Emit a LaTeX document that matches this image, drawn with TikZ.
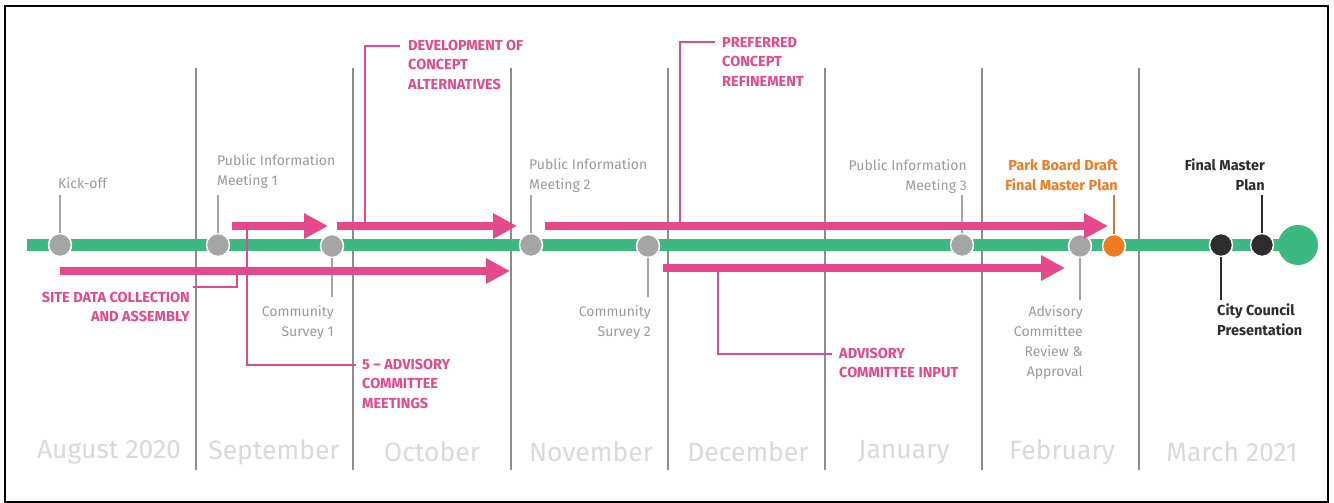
\documentclass[tikz,border=0pt]{standalone}
\usepackage{fontspec}
\setmainfont{Fira Sans}
\usetikzlibrary{arrows.meta}
\definecolor{cpink}{RGB}{230,72,140}
\definecolor{cgreen}{RGB}{60,185,130}
\definecolor{cgray}{RGB}{165,165,165}
\definecolor{ctext}{RGB}{155,155,155}
\definecolor{cmonth}{RGB}{218,218,218}
\definecolor{corange}{RGB}{242,122,32}
\definecolor{cdark}{RGB}{45,45,45}
\definecolor{csep}{RGB}{140,140,140}
\begin{document}
\begin{tikzpicture}[x=1pt,y=-1pt,
  mile/.style={circle,fill=cgray,draw=white,line width=1.5pt,minimum size=23pt,inner sep=0pt},
  stem/.style={draw=cgray,line width=2pt},
  darkstem/.style={draw=cdark,line width=2pt},
  sepline/.style={draw=csep,line width=1.4pt},
  glabel/.style={text=ctext,font=\fontsize{14}{20}\selectfont,inner sep=0pt},
  blabel/.style={inner sep=0pt,font=\bfseries\fontsize{14.5}{20}\selectfont},
  plabel/.style={text=cpink,font=\bfseries\fontsize{14.5}{19.5}\selectfont,inner sep=0pt},
  mlabel/.style={text=cmonth,font=\fontsize{26.5}{28}\selectfont,inner sep=0pt},
  parrow/.style={draw=cpink,line width=8pt,-{Triangle[length=24pt,width=24pt]}},
  callout/.style={draw=cpink,line width=1.5pt},
]
\useasboundingbox (0,0) rectangle (1334,503);
\fill[white] (0,0) rectangle (1334,503);
\draw[black,line width=1.6pt] (5,6) rectangle (1328,502);

% month separators
\foreach \x in {196,353,511,668,825,982,1139}{
  \draw[sepline] (\x,68) -- (\x,470);
}

% green timeline
\coordinate (gstart) at (27,245);
\node[circle,fill=cgreen,minimum size=40pt,inner sep=0pt] (gend) at (1298,245) {};
\draw[cgreen,line width=12pt] (gstart) -- (gend.center);

% stem ends
\coordinate (kt) at (60,195);
\coordinate (p1t) at (218,195);
\coordinate (c1b) at (332,297);
\coordinate (p2t) at (531,195);
\coordinate (c2b) at (648,297);
\coordinate (p3t) at (962,195);
\coordinate (acb) at (1080,300);
\coordinate (pbt) at (1114,195);
\coordinate (fmt) at (1262,195);
\coordinate (ccb) at (1221,300);

% milestones
\node[mile] (k) at (60,245) {};
\node[mile] (p1) at (218,245) {};
\node[mile] (c1) at (332,246) {};
\node[mile] (p2) at (531,245) {};
\node[mile] (c2) at (648,246) {};
\node[mile] (p3) at (962,245) {};
\node[mile] (ac) at (1080,246) {};
\node[mile,fill=corange] (pb) at (1114,246) {};
\node[mile,fill=cdark] (cc) at (1221,245) {};
\node[mile,fill=cdark] (fm) at (1262,245) {};

\draw[stem] (k) -- (kt);
\draw[stem] (p1) -- (p1t);
\draw[stem] (c1) -- (c1b);
\draw[stem] (p2) -- (p2t);
\draw[stem] (c2) -- (c2b);
\draw[stem] (p3) -- (p3t);
\draw[stem] (ac) -- (acb);
\draw[stem,draw=corange!60!gray] (pb) -- (pbt);
\draw[darkstem] (fm) -- (fmt);
\draw[darkstem] (cc) -- (ccb);

% milestone labels
\node[glabel,anchor=north west] (kl) at (58,177) {Kick-off};
\node[glabel,anchor=north west,align=left] (p1l) at (217,154) {Public Information\\Meeting 1};
\node[glabel,anchor=north east,align=right] (c1l) at (334,305) {Community\\Survey 1};
\node[glabel,anchor=north west,align=left] (p2l) at (529,158) {Public Information\\Meeting 2};
\node[glabel,anchor=north east,align=right] (c2l) at (651,305) {Community\\Survey 2};
\node[glabel,anchor=north east,align=right] (p3l) at (967,159) {Public Information\\Meeting 3};
\node[glabel,anchor=north east,align=right] (acl) at (1083,305) {Advisory\\Committee\\Review \&\\Approval};
\node[blabel,anchor=north east,align=right,text=corange] (pbl) at (1118,159) {Park Board Draft\\Final Master Plan};
\node[blabel,anchor=north east,align=right,text=cdark] (fml) at (1265,159) {Final Master\\Plan};
\node[blabel,anchor=north west,align=left,text=cdark] (ccl) at (1217,304) {City Council\\Presentation};

% pink arrows
\coordinate (a1s) at (232,226); \coordinate (a1e) at (328,226);
\coordinate (a2s) at (337,226); \coordinate (a2e) at (517,226);
\coordinate (a3s) at (545,226); \coordinate (a3e) at (1108,226);
\coordinate (b1s) at (60,271);  \coordinate (b1e) at (510,271);
\coordinate (b2s) at (663,268); \coordinate (b2e) at (1065,268);
\draw[parrow] (a1s) -- (a1e);
\draw[parrow] (a2s) -- (a2e);
\draw[parrow] (a3s) -- (a3e);
\draw[parrow] (b1s) -- (b1e);
\draw[parrow] (b2s) -- (b2e);

% pink labels and callouts
\node[plabel,anchor=north east,align=right] (sdc) at (190,292) {SITE DATA COLLECTION\\AND ASSEMBLY};
\node[plabel,anchor=north west,align=left] (acm) at (362,359) {5 – ADVISORY\\COMMITTEE\\MEETINGS};
\node[plabel,anchor=north west,align=left] (dca) at (408,40) {DEVELOPMENT OF\\CONCEPT\\ALTERNATIVES};
\node[plabel,anchor=north west,align=left] (pcr) at (722,37) {PREFERRED\\CONCEPT\\REFINEMENT};
\node[plabel,anchor=north west,align=left] (aci) at (839,348) {ADVISORY\\COMMITTEE INPUT};

\coordinate (sdc0) at (237,271);
\draw[callout] (sdc0) |- ([xshift=3pt,yshift=5pt]sdc.north east);
\coordinate (acm0) at (247,226);
\draw[callout] (acm0) |- ([xshift=-6pt,yshift=-6pt]acm.north west);
\coordinate (dca0) at (365,226);
\draw[callout] (dca0) |- ([xshift=-8pt,yshift=-6pt]dca.north west);
\coordinate (pcr0) at (680,226);
\draw[callout] (pcr0) |- ([xshift=-7pt,yshift=-5pt]pcr.north west);
\coordinate (aci0) at (718,268);
\draw[callout] (aci0) |- ([xshift=-7pt,yshift=-6pt]aci.north west);

% months
\node[mlabel] (m1) at (109,452) {August 2020};
\node[mlabel] (m2) at (274,452) {September};
\node[mlabel] (m3) at (432,452) {October};
\node[mlabel] (m4) at (591,452) {November};
\node[mlabel] (m5) at (748,452) {December};
\node[mlabel] (m6) at (904,452) {January};
\node[mlabel] (m7) at (1062,452) {February};
\node[mlabel] (m8) at (1232,452) {March 2021};
\end{tikzpicture}
\end{document}
